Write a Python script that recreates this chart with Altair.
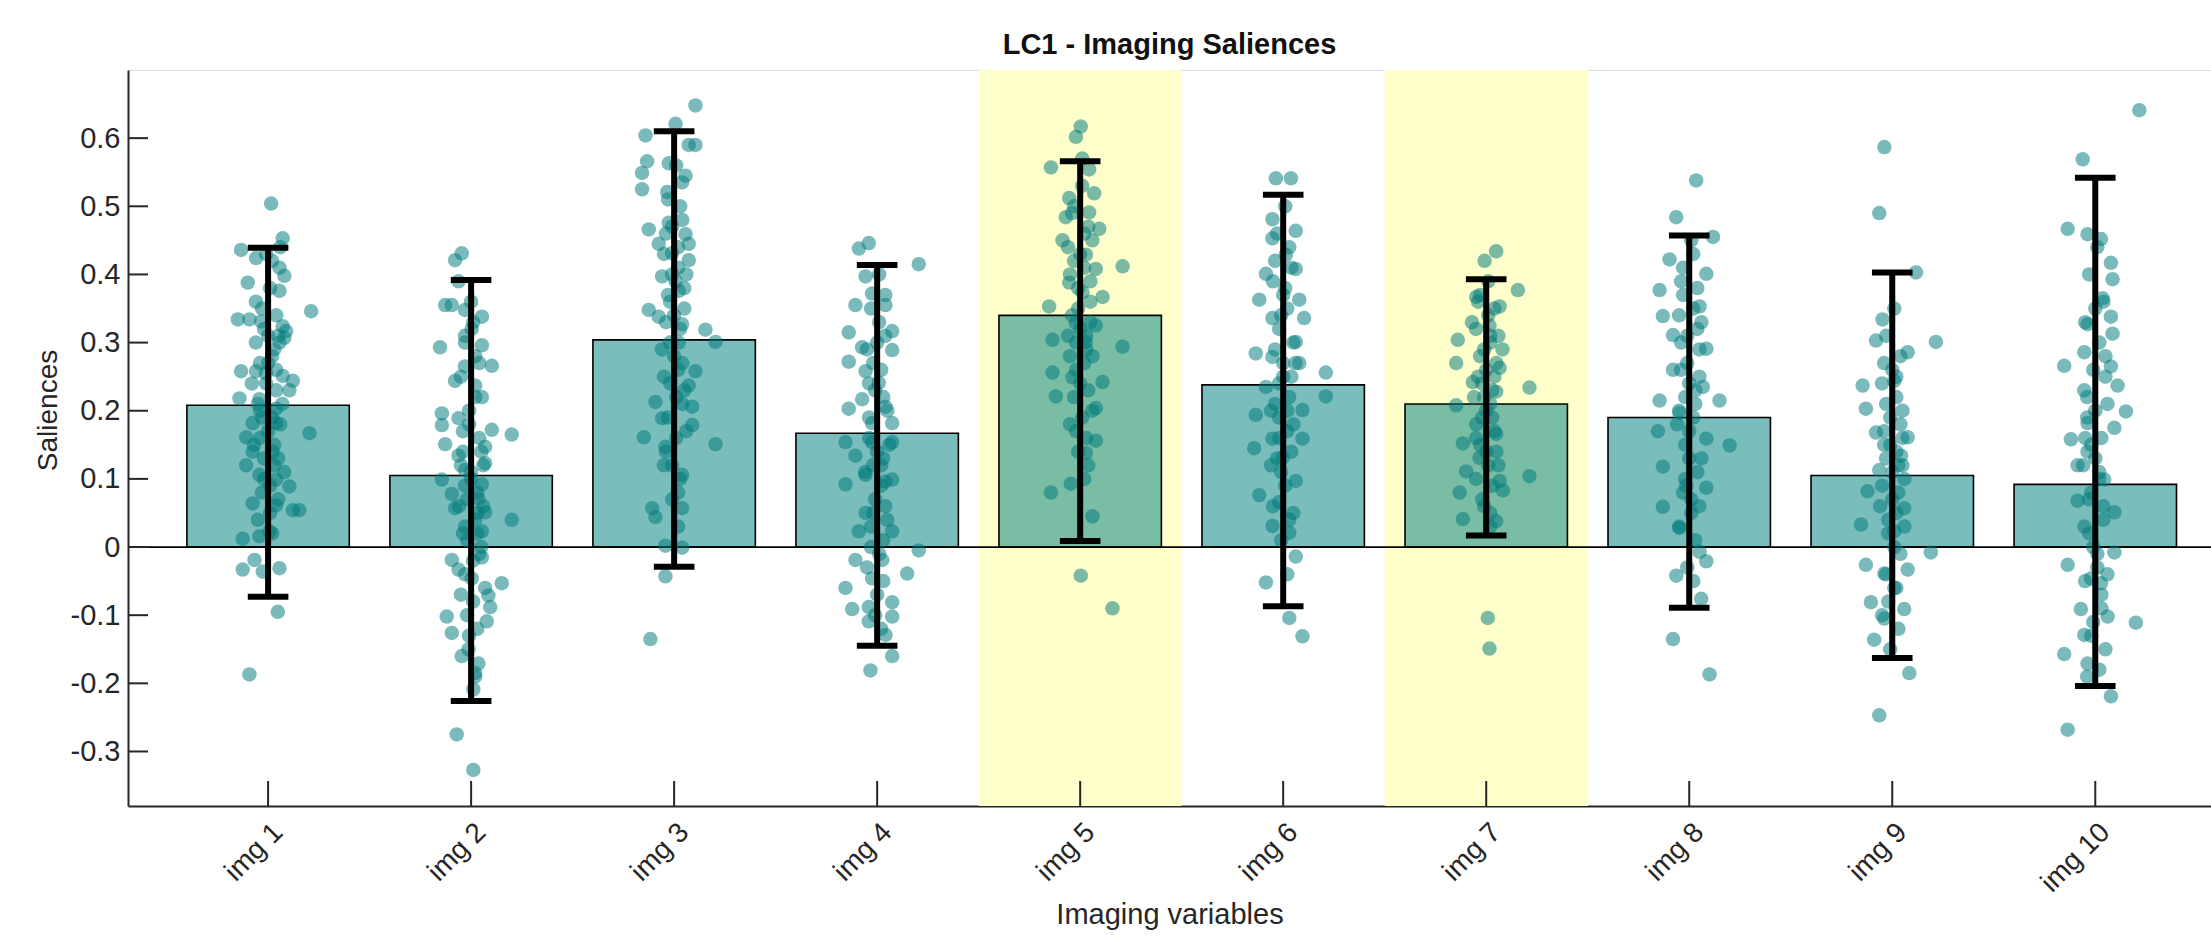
import altair as alt
import pandas as pd

# ---------------- data ----------------
categories = ["img 1", "img 2", "img 3", "img 4", "img 5",
              "img 6", "img 7", "img 8", "img 9", "img 10"]
bar_means = [0.208, 0.105, 0.304, 0.167, 0.340, 0.238, 0.210, 0.190, 0.105, 0.092]
err_low = [-0.073, -0.226, -0.029, -0.145, 0.009, -0.087, 0.017, -0.089, -0.163, -0.204]
err_high = [0.439, 0.392, 0.610, 0.414, 0.566, 0.517, 0.393, 0.457, 0.403, 0.542]
highlighted = ["img 5", "img 7"]
y_tick_values = [-0.3, -0.2, -0.1, 0.0, 0.1, 0.2, 0.3, 0.4, 0.5, 0.6]

# (horizontal jitter in category units, salience value)
img1_points = [(0.015, 0.504), (0.072, 0.453), (-0.133, 0.436), (-0.059, 0.424), (0.056, 0.410),
               (0.080, 0.398), (-0.100, 0.388), (0.056, 0.376), (0.212, 0.346), (-0.149, 0.334),
               (-0.092, 0.334), (-0.034, 0.331), (0.072, 0.324), (0.089, 0.317), (0.056, 0.300),
               (0.080, 0.307), (-0.133, 0.258), (-0.059, 0.258), (-0.010, 0.255), (0.072, 0.251),
               (0.122, 0.244), (0.105, 0.230), (-0.141, 0.218), (-0.043, 0.217), (0.039, 0.203),
               (-0.076, 0.182), (0.039, 0.182), (0.204, 0.167), (-0.108, 0.161), (-0.076, 0.140),
               (0.023, 0.140), (-0.108, 0.120), (-0.043, 0.106), (0.039, 0.099), (0.105, 0.089),
               (-0.076, 0.064), (0.039, 0.061), (0.122, 0.054), (0.154, 0.054), (-0.125, 0.012),
               (-0.043, 0.016), (0.007, 0.023), (-0.067, -0.019), (-0.125, -0.033), (0.056, -0.031),
               (-0.026, -0.036), (0.048, -0.095), (-0.092, -0.187), (-0.02, 0.32), (0.03, 0.29),
               (0.0, 0.27), (-0.05, 0.21), (0.02, 0.19), (-0.04, 0.16), (0.05, 0.13),
               (-0.03, 0.08), (0.01, 0.05), (0.04, 0.34), (-0.06, 0.36), (0.02, 0.42),
               (0.06, 0.44), (-0.02, 0.13), (0.08, 0.11)]
img1_core = [(0.01, 0.38), (-0.03, 0.35), (0.05, 0.31), (-0.06, 0.30), (0.02, 0.28), (-0.01, 0.24),
             (0.04, 0.23), (-0.04, 0.20), (0.06, 0.18), (0.00, 0.17), (-0.07, 0.15), (0.03, 0.12),
             (-0.02, 0.10), (0.05, 0.07), (-0.05, 0.04), (0.02, 0.02), (-0.01, 0.43), (0.04, 0.26),
             (-0.03, 0.19), (0.01, 0.09), (-0.08, 0.24), (0.07, 0.21), (0.0, 0.31), (-0.04, 0.27),
             (0.03, 0.15)]
img2_points = [(-0.046, 0.431), (-0.079, 0.421), (-0.062, 0.390), (-0.128, 0.355), (-0.095, 0.355),
               (-0.030, 0.348), (0.053, 0.338), (0.003, 0.320), (-0.153, 0.293), (-0.030, 0.300),
               (0.053, 0.296), (0.102, 0.266), (-0.030, 0.265), (-0.079, 0.244), (0.020, 0.237),
               (0.053, 0.220), (-0.144, 0.196), (-0.062, 0.189), (-0.144, 0.179), (0.102, 0.172),
               (0.200, 0.165), (-0.128, 0.151), (0.069, 0.147), (-0.062, 0.134), (0.069, 0.123),
               (-0.144, 0.099), (-0.030, 0.113), (0.053, 0.092), (-0.095, 0.078), (0.036, 0.071),
               (-0.079, 0.057), (0.069, 0.051), (0.200, 0.040), (-0.030, 0.030), (0.053, 0.023),
               (-0.095, -0.019), (0.053, -0.015), (-0.062, -0.033), (0.003, -0.046), (0.151, -0.053),
               (0.069, -0.060), (0.085, -0.071), (0.094, -0.088), (-0.120, -0.102), (0.077, -0.109),
               (-0.095, -0.126), (-0.013, -0.150), (-0.046, -0.160), (0.036, -0.171), (0.020, -0.185),
               (0.011, -0.209), (-0.071, -0.275), (0.011, -0.327), (-0.02, 0.07), (0.03, 0.05),
               (0.0, 0.10), (-0.05, 0.12), (0.04, 0.16), (-0.01, 0.20), (0.02, 0.28),
               (-0.04, 0.02), (0.05, 0.0), (0.01, -0.02), (-0.03, 0.09), (0.06, 0.06)]
img2_core = [(0.01, 0.33), (-0.03, 0.31), (0.04, 0.27), (-0.05, 0.25), (0.02, 0.22), (-0.01, 0.18),
             (0.05, 0.14), (-0.04, 0.14), (0.0, 0.11), (0.03, 0.08), (-0.06, 0.06), (0.02, 0.04),
             (-0.02, 0.01), (0.04, -0.01), (-0.03, -0.04), (0.01, -0.08), (-0.05, -0.07), (0.03, -0.12),
             (-0.01, -0.13), (0.02, -0.19), (-0.04, 0.17), (0.06, 0.12), (0.0, 0.36), (0.03, 0.02),
             (-0.02, -0.10)]
img3_points = [(0.105, 0.648), (0.007, 0.621), (-0.141, 0.604), (0.072, 0.590), (0.105, 0.590),
               (-0.133, 0.566), (-0.026, 0.563), (0.056, 0.545), (-0.158, 0.549), (-0.158, 0.525),
               (-0.034, 0.521), (0.039, 0.535), (-0.125, 0.466), (-0.026, 0.476), (0.056, 0.459),
               (-0.076, 0.445), (0.072, 0.445), (-0.010, 0.431), (0.072, 0.421), (-0.059, 0.397),
               (0.007, 0.390), (0.023, 0.376), (-0.125, 0.348), (-0.076, 0.338), (0.039, 0.327),
               (0.154, 0.319), (0.204, 0.301), (0.023, 0.300), (0.105, 0.258), (0.072, 0.237),
               (-0.092, 0.213), (0.089, 0.206), (-0.059, 0.189), (0.089, 0.179), (-0.149, 0.161),
               (0.204, 0.151), (-0.043, 0.147), (-0.010, 0.120), (0.039, 0.106), (-0.108, 0.057),
               (-0.092, 0.044), (0.039, 0.057), (-0.043, 0.002), (0.039, -0.001), (-0.043, -0.043),
               (-0.117, -0.135), (0.02, 0.41), (-0.03, 0.37), (0.05, 0.35), (-0.02, 0.30),
               (0.04, 0.27), (-0.05, 0.25), (0.01, 0.22), (0.06, 0.17), (-0.04, 0.14),
               (0.02, 0.08), (-0.01, 0.47), (0.03, 0.50)]
img3_core = [(0.01, 0.56), (-0.03, 0.51), (0.04, 0.48), (-0.05, 0.43), (0.02, 0.44), (-0.01, 0.40),
             (0.05, 0.38), (-0.04, 0.33), (0.0, 0.34), (0.03, 0.32), (-0.06, 0.29), (0.02, 0.26),
             (-0.02, 0.24), (0.04, 0.21), (-0.03, 0.19), (0.01, 0.16), (-0.05, 0.12), (0.03, 0.10),
             (-0.01, 0.07), (0.02, 0.03), (-0.04, 0.46), (0.06, 0.40), (0.0, 0.28), (-0.02, 0.36),
             (0.05, 0.23)]
img4_points = [(-0.041, 0.446), (-0.090, 0.438), (0.205, 0.415), (-0.057, 0.397), (-0.025, 0.372),
               (-0.107, 0.355), (0.041, 0.355), (0.074, 0.317), (-0.140, 0.315), (-0.074, 0.293),
               (0.074, 0.289), (-0.140, 0.272), (-0.057, 0.258), (0.008, 0.241), (-0.074, 0.217),
               (0.041, 0.206), (-0.140, 0.203), (-0.025, 0.182), (0.074, 0.182), (-0.156, 0.154),
               (-0.025, 0.154), (0.074, 0.154), (-0.107, 0.134), (-0.057, 0.106), (-0.156, 0.092),
               (0.041, 0.096), (0.074, 0.099), (-0.057, 0.050), (-0.090, 0.023), (0.074, 0.023),
               (0.205, -0.005), (-0.107, -0.019), (0.025, -0.019), (0.148, -0.039), (-0.025, -0.046),
               (-0.156, -0.060), (0.074, -0.081), (-0.123, -0.091), (-0.041, -0.088), (0.074, -0.102),
               (-0.041, -0.109), (0.041, -0.129), (0.074, -0.160), (-0.033, -0.181), (0.01, 0.33),
               (-0.02, 0.27), (0.03, 0.22), (-0.04, 0.16), (0.02, 0.12), (-0.01, 0.07),
               (0.05, 0.04), (-0.03, 0.0), (0.0, -0.07), (0.04, 0.37)]
img4_core = [(0.01, 0.40), (-0.03, 0.35), (0.04, 0.31), (-0.05, 0.29), (0.02, 0.26), (-0.01, 0.23),
             (0.05, 0.20), (-0.04, 0.19), (0.0, 0.14), (0.03, 0.13), (-0.06, 0.11), (0.02, 0.09),
             (-0.02, 0.05), (0.04, 0.06), (-0.03, 0.03), (0.01, -0.01), (-0.05, -0.03), (0.03, -0.05),
             (-0.01, -0.10), (0.02, -0.12), (-0.04, 0.24), (0.06, 0.15), (0.0, 0.30), (0.03, 0.01),
             (-0.02, 0.12)]
img5_points = [(0.003, 0.617), (-0.021, 0.602), (-0.144, 0.557), (0.044, 0.554), (-0.054, 0.512),
               (0.069, 0.519), (-0.071, 0.484), (0.044, 0.491), (0.094, 0.467), (-0.087, 0.450),
               (0.028, 0.429), (0.209, 0.412), (0.077, 0.408), (-0.054, 0.388), (0.011, 0.374),
               (0.110, 0.367), (-0.153, 0.353), (-0.021, 0.329), (0.077, 0.325), (-0.136, 0.304),
               (0.028, 0.301), (0.209, 0.294), (0.061, 0.280), (-0.136, 0.256), (-0.038, 0.249),
               (0.110, 0.242), (-0.120, 0.221), (0.077, 0.204), (0.077, 0.156), (0.028, 0.138),
               (-0.046, 0.093), (-0.144, 0.080), (0.061, 0.045), (0.003, -0.042), (0.159, -0.090),
               (0.02, 0.46), (-0.03, 0.42), (0.05, 0.39), (-0.01, 0.35), (0.03, 0.31),
               (-0.05, 0.28), (0.0, 0.24), (0.06, 0.20), (-0.02, 0.17), (0.04, 0.12),
               (-0.06, 0.44), (0.01, 0.53)]
img5_core = [(0.01, 0.57), (-0.03, 0.50), (0.04, 0.47), (-0.05, 0.40), (0.02, 0.41), (-0.01, 0.38),
             (0.05, 0.36), (-0.04, 0.34), (0.0, 0.32), (0.03, 0.29), (-0.06, 0.31), (0.02, 0.27),
             (-0.02, 0.26), (0.04, 0.23), (-0.03, 0.22), (0.01, 0.19), (-0.05, 0.18), (0.03, 0.16),
             (-0.01, 0.14), (0.02, 0.10), (-0.04, 0.49), (0.06, 0.45), (0.0, 0.43), (-0.02, 0.30),
             (0.05, 0.33)]
img6_points = [(-0.036, 0.541), (0.038, 0.541), (-0.053, 0.481), (0.062, 0.464), (-0.053, 0.453),
               (0.013, 0.429), (-0.085, 0.401), (0.062, 0.408), (-0.118, 0.363), (0.079, 0.363),
               (-0.053, 0.336), (0.103, 0.336), (0.062, 0.301), (-0.135, 0.284), (-0.053, 0.279),
               (0.079, 0.270), (0.210, 0.256), (-0.085, 0.235), (0.210, 0.221), (-0.135, 0.194),
               (-0.020, 0.190), (0.095, 0.201), (-0.053, 0.159), (0.095, 0.159), (-0.143, 0.145),
               (-0.003, 0.131), (0.062, 0.097), (-0.118, 0.076), (-0.020, 0.066), (-0.053, 0.031),
               (0.030, 0.021), (0.062, -0.014), (-0.085, -0.052), (0.030, -0.104), (0.095, -0.131),
               (0.01, 0.38), (-0.02, 0.32), (0.04, 0.25), (-0.04, 0.21), (0.02, 0.17),
               (-0.01, 0.11), (0.05, 0.05), (-0.06, 0.12), (0.03, 0.44), (0.0, 0.27)]
img6_core = [(0.01, 0.50), (-0.03, 0.46), (0.04, 0.41), (-0.05, 0.39), (0.02, 0.35), (-0.01, 0.34),
             (0.05, 0.30), (-0.04, 0.29), (0.0, 0.25), (0.03, 0.22), (-0.06, 0.20), (0.02, 0.20),
             (-0.02, 0.16), (0.04, 0.14), (-0.03, 0.13), (0.01, 0.09), (-0.05, 0.06), (0.03, 0.04),
             (-0.01, 0.01), (0.02, -0.04), (-0.04, 0.42), (0.06, 0.27), (0.0, 0.37), (-0.02, 0.24),
             (0.05, 0.18)]
img7_points = [(0.049, 0.434), (-0.008, 0.420), (0.156, 0.377), (-0.049, 0.367), (0.066, 0.353),
               (-0.140, 0.304), (0.016, 0.325), (-0.148, 0.270), (0.066, 0.263), (-0.066, 0.242),
               (0.213, 0.234), (0.049, 0.228), (-0.148, 0.208), (-0.049, 0.180), (0.049, 0.166),
               (-0.115, 0.152), (-0.033, 0.131), (0.213, 0.104), (-0.099, 0.111), (0.066, 0.097),
               (-0.131, 0.080), (0.082, 0.083), (-0.115, 0.041), (0.049, 0.038), (0.008, -0.104),
               (0.016, -0.149), (0.02, 0.31), (-0.03, 0.28), (0.04, 0.25), (-0.01, 0.22),
               (0.03, 0.19), (-0.05, 0.16), (0.0, 0.14), (0.06, 0.12), (-0.02, 0.07),
               (0.01, 0.34), (-0.07, 0.33), (0.08, 0.29), (0.02, 0.05)]
img7_core = [(0.01, 0.39), (-0.03, 0.37), (0.04, 0.35), (-0.05, 0.32), (0.02, 0.30), (-0.01, 0.29),
             (0.05, 0.27), (-0.04, 0.25), (0.0, 0.26), (0.03, 0.23), (-0.06, 0.22), (0.02, 0.21),
             (-0.02, 0.19), (0.04, 0.17), (-0.03, 0.15), (0.01, 0.12), (-0.05, 0.10), (0.03, 0.09),
             (-0.01, 0.06), (0.02, 0.03), (-0.04, 0.36), (0.06, 0.31), (0.0, 0.20), (-0.02, 0.24),
             (0.05, 0.14)]
img8_points = [(0.034, 0.538), (-0.064, 0.484), (0.117, 0.455), (-0.097, 0.422), (0.084, 0.401),
               (-0.146, 0.377), (0.051, 0.353), (-0.130, 0.339), (-0.080, 0.311), (0.084, 0.291),
               (-0.080, 0.260), (0.067, 0.235), (0.149, 0.215), (-0.146, 0.215), (-0.048, 0.197),
               (-0.154, 0.170), (0.084, 0.159), (0.199, 0.149), (-0.130, 0.118), (-0.015, 0.090),
               (0.084, 0.087), (-0.130, 0.059), (-0.048, 0.028), (0.051, -0.007), (0.084, -0.021),
               (-0.064, -0.042), (0.059, -0.076), (-0.080, -0.135), (0.100, -0.187), (0.02, 0.43),
               (-0.03, 0.37), (0.04, 0.32), (-0.01, 0.27), (0.03, 0.23), (-0.05, 0.20),
               (0.0, 0.17), (0.06, 0.13), (-0.02, 0.10), (0.01, 0.05), (-0.04, 0.30),
               (0.05, 0.25)]
img8_core = [(0.01, 0.45), (-0.03, 0.41), (0.04, 0.38), (-0.05, 0.34), (0.02, 0.35), (-0.01, 0.31),
             (0.05, 0.29), (-0.04, 0.26), (0.0, 0.24), (0.03, 0.21), (-0.06, 0.18), (0.02, 0.19),
             (-0.02, 0.15), (0.04, 0.11), (-0.03, 0.08), (0.01, 0.07), (-0.05, 0.03), (0.03, 0.01),
             (-0.01, -0.03), (0.02, -0.05), (-0.04, 0.39), (0.06, 0.33), (0.0, 0.13), (-0.02, 0.22),
             (0.05, 0.06)]
img9_points = [(-0.039, 0.587), (-0.064, 0.490), (0.117, 0.403), (-0.048, 0.334), (0.215, 0.301),
               (-0.080, 0.303), (0.076, 0.286), (-0.146, 0.237), (0.010, 0.244), (-0.130, 0.203),
               (-0.080, 0.168), (0.076, 0.161), (0.043, 0.134), (-0.064, 0.113), (-0.122, 0.082),
               (0.059, 0.057), (-0.154, 0.033), (0.010, 0.023), (0.190, -0.008), (-0.130, -0.026),
               (0.076, -0.033), (-0.039, -0.039), (-0.105, -0.081), (0.059, -0.091), (-0.039, -0.105),
               (-0.089, -0.136), (0.084, -0.185), (-0.064, -0.247), (0.02, 0.25), (-0.03, 0.21),
               (0.04, 0.18), (-0.01, 0.15), (0.03, 0.12), (-0.05, 0.09), (0.0, 0.07),
               (0.06, 0.10), (-0.02, 0.04), (0.01, 0.0), (-0.04, 0.27), (0.05, 0.20),
               (0.02, -0.06), (-0.03, 0.13)]
img9_core = [(0.01, 0.35), (-0.03, 0.31), (0.04, 0.28), (-0.05, 0.24), (0.02, 0.22), (-0.01, 0.19),
             (0.05, 0.16), (-0.04, 0.15), (0.0, 0.11), (0.03, 0.08), (-0.06, 0.06), (0.02, 0.05),
             (-0.02, 0.02), (0.04, -0.01), (-0.03, -0.04), (0.01, -0.06), (-0.05, -0.10), (0.03, -0.12),
             (-0.01, -0.15), (0.02, 0.14), (-0.04, 0.17), (0.06, 0.03), (0.0, 0.26), (-0.02, -0.08),
             (0.05, 0.12)]
img10_points = [(0.217, 0.641), (-0.062, 0.569), (-0.136, 0.467), (-0.038, 0.459), (0.028, 0.452),
                (0.077, 0.417), (0.085, 0.393), (0.036, 0.365), (0.077, 0.338), (-0.038, 0.327),
                (0.085, 0.313), (-0.054, 0.286), (-0.153, 0.266), (0.077, 0.265), (0.110, 0.237),
                (-0.054, 0.230), (0.151, 0.199), (-0.038, 0.182), (0.094, 0.175), (-0.120, 0.158),
                (-0.038, 0.140), (-0.087, 0.120), (0.044, 0.099), (-0.087, 0.068), (0.094, 0.051),
                (-0.054, 0.030), (0.094, -0.008), (-0.136, -0.026), (-0.021, -0.046), (0.028, -0.053),
                (-0.071, -0.091), (0.200, -0.111), (0.061, -0.102), (-0.054, -0.129), (-0.153, -0.157),
                (-0.038, -0.171), (0.077, -0.219), (-0.136, -0.268), (0.02, 0.10), (-0.03, 0.07),
                (0.04, 0.04), (-0.01, 0.0), (0.03, -0.07), (-0.05, 0.16), (0.0, 0.13),
                (0.06, 0.21), (-0.02, -0.13), (0.01, -0.03), (-0.04, 0.19), (0.05, -0.15)]
img10_core = [(0.01, 0.44), (-0.03, 0.40), (0.04, 0.36), (-0.05, 0.33), (0.02, 0.30), (-0.01, 0.26),
              (0.05, 0.25), (-0.04, 0.22), (0.0, 0.20), (0.03, 0.16), (-0.06, 0.12), (0.02, 0.11),
              (-0.02, 0.08), (0.04, 0.06), (-0.03, 0.02), (0.01, -0.01), (-0.05, -0.05), (0.03, -0.09),
              (-0.01, -0.11), (0.02, -0.18), (-0.04, -0.19), (0.06, -0.04), (0.0, 0.35), (-0.02, 0.15),
              (0.05, 0.28)]

all_points = [img1_points + img1_core, img2_points + img2_core, img3_points + img3_core,
              img4_points + img4_core, img5_points + img5_core, img6_points + img6_core,
              img7_points + img7_core, img8_points + img8_core, img9_points + img9_core,
              img10_points + img10_core]

# ---------------- layout ----------------
W, H = 2083, 736
X_DOMAIN = [0.31, 10.57]
Y_DOMAIN = [-0.38, 0.70]
FONT = "Liberation Sans"
TEAL = "#008080"
TXT = "#262626"

bars_df = pd.DataFrame({
    "cat": categories,
    "idx": list(range(1, len(categories) + 1)),
    "mean": bar_means,
    "lo": err_low,
    "hi": err_high,
})
bars_df["x0"] = bars_df["idx"] - 0.4
bars_df["x1"] = bars_df["idx"] + 0.4
bars_df["c0"] = bars_df["idx"] - 0.1
bars_df["c1"] = bars_df["idx"] + 0.1

hl_df = bars_df[bars_df["cat"].isin(highlighted)].copy()
hl_df["h0"] = hl_df["idx"] - 0.5
hl_df["h1"] = hl_df["idx"] + 0.5
hl_df["top"] = Y_DOMAIN[1]
hl_df["bot"] = Y_DOMAIN[0]

rows = []
for i, pts in enumerate(all_points, start=1):
    for jit, val in pts:
        rows.append({"cat": categories[i - 1], "xpos": i + jit, "value": val})
pts_df = pd.DataFrame(rows)

yt_df = pd.DataFrame({"v": y_tick_values})
zero_df = pd.DataFrame({"v": [0.0]})

xs = alt.Scale(domain=X_DOMAIN, nice=False, zero=False)
ys = alt.Scale(domain=Y_DOMAIN, nice=False, zero=False)

x_axis = alt.Axis(values=list(range(1, 11)),
                  labelExpr="'img ' + datum.value",
                  labelAngle=-45, labelAlign="right", labelBaseline="top",
                  labelFontSize=28, labelFont=FONT, labelColor=TXT,
                  labelPadding=12, tickSize=0, grid=False,
                  domainColor=TXT, domainWidth=2,
                  title="Imaging variables", titleFont=FONT, titleFontSize=29,
                  titleFontWeight="normal", titleColor=TXT,
                  titleBaseline="middle", titleY=108)
y_axis = alt.Axis(values=y_tick_values,
                  labelExpr="datum.value == 0 ? '0' : toString(round(datum.value * 10) / 10)",
                  labelFontSize=29, labelFont=FONT, labelColor=TXT,
                  labelPadding=8, tickSize=0, grid=False,
                  domainColor=TXT, domainWidth=2,
                  title="Saliences", titleFont=FONT, titleFontSize=28,
                  titleFontWeight="normal", titleColor=TXT,
                  titleX=-80, titleY=340, titleBaseline="middle", titleAlign="center")

highlight = alt.Chart(hl_df).mark_rect(color="#ffffcc").encode(
    x=alt.X("h0:Q", scale=xs, axis=x_axis),
    x2="h1:Q",
    y=alt.Y("top:Q", scale=ys, axis=y_axis),
    y2="bot:Q",
)

bars = alt.Chart(bars_df).mark_rect(fill=TEAL, fillOpacity=0.52, stroke="black",
                                    strokeWidth=1.6, strokeOpacity=1).encode(
    x=alt.X("x0:Q", scale=xs),
    x2="x1:Q",
    y=alt.Y("mean:Q", scale=ys),
    y2=alt.datum(0),
)

zero_line = alt.Chart(zero_df).mark_rule(color="black", strokeWidth=1.8).encode(
    y=alt.Y("v:Q", scale=ys),
    x=alt.value(0),
    x2=alt.value(W),
)

dots = alt.Chart(pts_df).mark_circle(size=210, color="#007a7a", opacity=0.52).encode(
    x=alt.X("xpos:Q", scale=xs),
    y=alt.Y("value:Q", scale=ys),
)

err_v = alt.Chart(bars_df).mark_rule(color="black", strokeWidth=6).encode(
    x=alt.X("idx:Q", scale=xs),
    y=alt.Y("lo:Q", scale=ys),
    y2="hi:Q",
)
cap_lo = alt.Chart(bars_df).mark_rule(color="black", strokeWidth=6).encode(
    x=alt.X("c0:Q", scale=xs), x2="c1:Q", y=alt.Y("lo:Q", scale=ys),
)
cap_hi = alt.Chart(bars_df).mark_rule(color="black", strokeWidth=6).encode(
    x=alt.X("c0:Q", scale=xs), x2="c1:Q", y=alt.Y("hi:Q", scale=ys),
)

y_ticks = alt.Chart(yt_df).mark_rule(color=TXT, strokeWidth=2).encode(
    y=alt.Y("v:Q", scale=ys), x=alt.value(0), x2=alt.value(20),
)
x_ticks = alt.Chart(bars_df).mark_rule(color=TXT, strokeWidth=2).encode(
    x=alt.X("idx:Q", scale=xs), y=alt.value(H), y2=alt.value(H - 25),
)

chart = alt.layer(
    highlight, bars, zero_line, dots, err_v, cap_lo, cap_hi, y_ticks, x_ticks
).properties(
    width=W, height=H,
    title=alt.TitleParams("LC1 - Imaging Saliences", font=FONT, fontSize=29,
                          fontWeight="bold", color="#111111", anchor="middle", offset=10),
    autosize=alt.AutoSizeParams(type="none"),
    padding={"left": 128, "top": 70, "right": 0, "bottom": 130},
).configure_view(stroke=None).configure(background="white")

chart.save("out.html", embed_options={"renderer": "svg", "actions": False})
